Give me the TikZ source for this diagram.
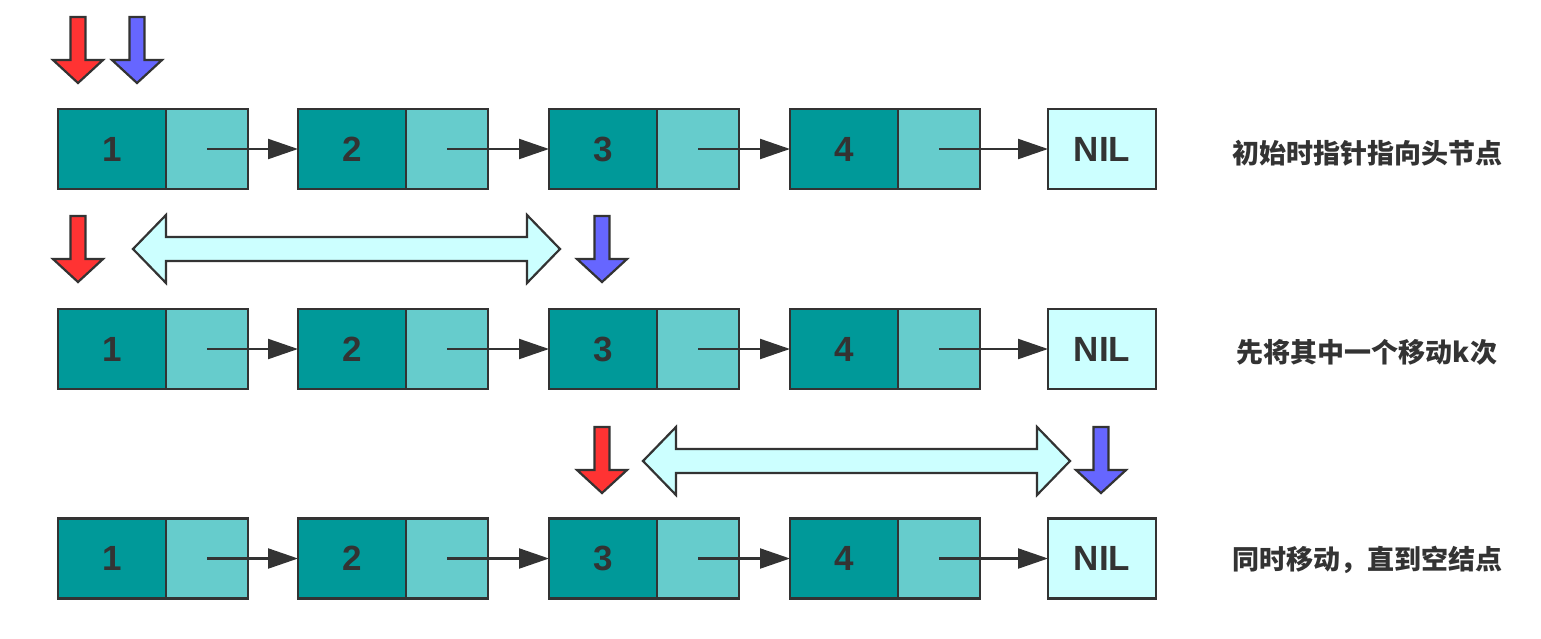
\documentclass[tikz,border=0pt]{standalone}
\usepackage{fontspec}
\setmainfont{Liberation Sans}
\newfontfamily\cjkfont{Noto Sans CJK SC}
\usetikzlibrary{arrows.meta}
\definecolor{datac}{HTML}{009999}
\definecolor{ptrc}{HTML}{66CCCC}
\definecolor{nilc}{HTML}{CCFFFF}
\definecolor{bordc}{HTML}{333333}
\definecolor{redc}{HTML}{FF3333}
\definecolor{bluec}{HTML}{6666FF}
\definecolor{txtc}{HTML}{333333}
\tikzset{
  cellbase/.style={draw=bordc, line width=2.6pt, minimum height=80pt, inner sep=0pt, outer sep=0pt, anchor=west,
    font=\fontsize{35}{35}\selectfont\bfseries, text=txtc},
  datacell/.style={cellbase, fill=datac, minimum width=108pt},
  ptrcell/.style={cellbase, fill=ptrc, minimum width=82pt},
  nilcell/.style={cellbase, fill=nilc, minimum width=108pt},
  link/.style={draw=bordc, line width=2.2pt, -{Triangle[length=30pt,width=20pt]}},
  label/.style={font=\cjkfont\bfseries\fontsize{27}{27}\selectfont, text=txtc, anchor=center},
  ptrarrow/.pic={
    \path[draw=bordc, line width=2.2pt, line join=miter, fill=#1]
      (-7.5,0) -- (7.5,0) -- (7.5,43) -- (25,43) -- (0,66) -- (-25,43) -- (-7.5,43) -- cycle;
  },
  dblarrow/.pic={
    \path[draw=bordc, line width=2.2pt, line join=miter, fill=nilc]
      (0,0) -- (33,-34) -- (33,-12) -- (\dblen-33,-12) -- (\dblen-33,-34) -- (\dblen,0)
      -- (\dblen-33,34) -- (\dblen-33,12) -- (33,12) -- (33,34) -- cycle;
  }
}
\begin{document}
\begin{tikzpicture}[x=1pt,y=-1pt]
\useasboundingbox (0,0) rectangle (1541,638);
\foreach \r/\yc in {1/149, 2/349, 3/558.5}{
  \node[datacell] (r\r d1) at (58,\yc) {1};
  \node[ptrcell] (r\r p1) at (r\r d1.east) {};
  \node[datacell] (r\r d2) at (298,\yc) {2};
  \node[ptrcell] (r\r p2) at (r\r d2.east) {};
  \node[datacell] (r\r d3) at (549,\yc) {3};
  \node[ptrcell] (r\r p3) at (r\r d3.east) {};
  \node[datacell] (r\r d4) at (790,\yc) {4};
  \node[ptrcell] (r\r p4) at (r\r d4.east) {};
  \node[nilcell] (r\r nil) at (1048,\yc) {NIL};
  \draw[link] (r\r p1.center) -- (r\r d2.west);
  \draw[link] (r\r p2.center) -- (r\r d3.west);
  \draw[link] (r\r p3.center) -- (r\r d4.west);
  \draw[link] (r\r p4.center) -- (r\r nil.west);
}
\node[label] (t1) at (1367,153) {初始时指针指向头节点};
\node[label] (t2) at (1367,352) {先将其中一个移动k次};
\node[label] (t3) at (1367,560) {同时移动，直到空结点};
% pointer arrows
\pic at (78,17) {ptrarrow=redc};
\pic at (137,17) {ptrarrow=bluec};
\pic at (78,216) {ptrarrow=redc};
\pic at (602,216) {ptrarrow=bluec};
\pic at (602,427) {ptrarrow=redc};
\pic at (1101,427) {ptrarrow=bluec};
% double arrows
\def\dblen{427}
\pic at (133,249) {dblarrow};
\pic at (643,461) {dblarrow};
\end{tikzpicture}
\end{document}
